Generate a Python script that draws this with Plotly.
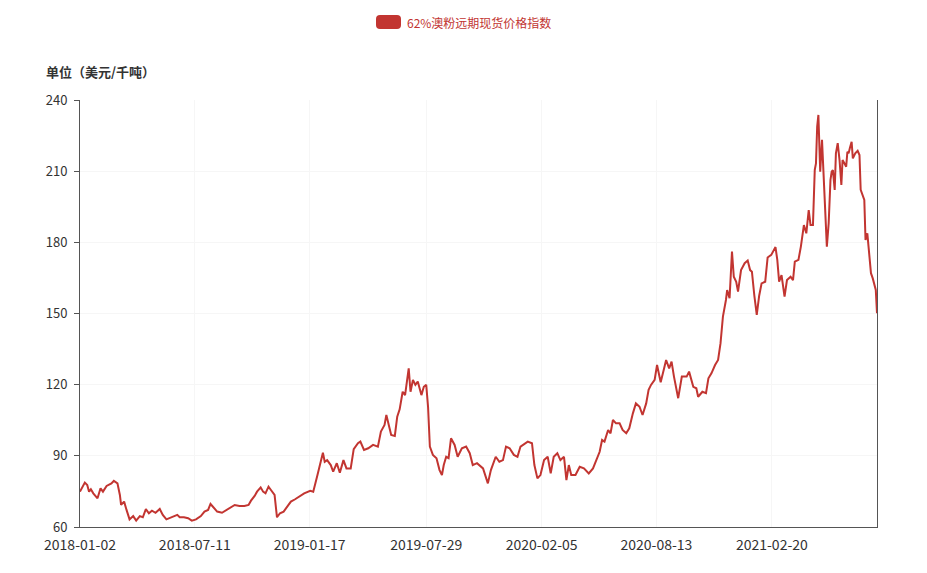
import plotly.graph_objects as go

# ---------------- data ----------------
series_name = "62%澳粉远期现货价格指数"
y_axis_name = "单位（美元/千吨）"

dates = [
    "2018-01-02", "2018-01-10", "2018-01-14", "2018-01-17", "2018-01-20", "2018-01-24", "2018-01-31",
    "2018-02-05", "2018-02-09", "2018-02-15", "2018-02-23", "2018-02-27", "2018-03-05", "2018-03-09",
    "2018-03-11", "2018-03-16", "2018-03-20", "2018-03-25", "2018-03-31", "2018-04-05", "2018-04-11",
    "2018-04-16", "2018-04-21", "2018-04-26", "2018-05-01", "2018-05-07", "2018-05-14", "2018-05-19",
    "2018-05-25", "2018-06-02", "2018-06-12", "2018-06-16", "2018-06-23", "2018-06-30", "2018-07-06",
    "2018-07-13", "2018-07-21", "2018-07-27", "2018-08-02", "2018-08-06", "2018-08-12", "2018-08-17",
    "2018-08-25", "2018-09-01", "2018-09-07", "2018-09-15", "2018-09-23", "2018-10-01", "2018-10-08",
    "2018-10-12", "2018-10-18", "2018-10-22", "2018-10-28", "2018-11-01", "2018-11-05", "2018-11-10",
    "2018-11-14", "2018-11-20", "2018-11-24", "2018-11-29", "2018-12-05", "2018-12-13", "2018-12-17",
    "2018-12-24", "2019-01-01", "2019-01-08", "2019-01-18", "2019-01-23", "2019-01-30", "2019-02-03",
    "2019-02-08", "2019-02-11", "2019-02-15", "2019-02-21", "2019-02-25", "2019-03-03", "2019-03-08",
    "2019-03-14", "2019-03-19", "2019-03-26", "2019-03-31", "2019-04-07", "2019-04-11", "2019-04-17",
    "2019-04-24", "2019-05-02", "2019-05-10", "2019-05-15", "2019-05-21", "2019-05-24", "2019-05-28",
    "2019-06-01", "2019-06-07", "2019-06-11", "2019-06-15", "2019-06-20", "2019-06-24", "2019-06-27",
    "2019-06-30", "2019-07-03", "2019-07-07", "2019-07-11", "2019-07-15", "2019-07-21", "2019-07-25",
    "2019-07-29", "2019-08-01", "2019-08-04", "2019-08-09", "2019-08-15", "2019-08-20", "2019-08-24",
    "2019-08-27", "2019-08-31", "2019-09-04", "2019-09-08", "2019-09-14", "2019-09-19", "2019-09-26",
    "2019-10-03", "2019-10-09", "2019-10-14", "2019-10-21", "2019-10-31", "2019-11-08", "2019-11-13",
    "2019-11-21", "2019-11-27", "2019-12-03", "2019-12-08", "2019-12-14", "2019-12-21", "2019-12-27",
    "2020-01-01", "2020-01-08", "2020-01-13", "2020-01-20", "2020-01-24", "2020-01-29", "2020-02-03",
    "2020-02-09", "2020-02-15", "2020-02-20", "2020-02-25", "2020-03-02", "2020-03-07", "2020-03-13",
    "2020-03-17", "2020-03-21", "2020-03-25", "2020-04-01", "2020-04-08", "2020-04-15", "2020-04-23",
    "2020-04-30", "2020-05-05", "2020-05-11", "2020-05-15", "2020-05-19", "2020-05-25", "2020-05-29",
    "2020-06-02", "2020-06-07", "2020-06-13", "2020-06-18", "2020-06-24", "2020-06-29", "2020-07-05",
    "2020-07-10", "2020-07-16", "2020-07-21", "2020-07-27", "2020-07-31", "2020-08-04", "2020-08-10",
    "2020-08-14", "2020-08-20", "2020-08-25", "2020-08-29", "2020-09-03", "2020-09-07", "2020-09-11",
    "2020-09-18", "2020-09-24", "2020-10-02", "2020-10-06", "2020-10-13", "2020-10-18", "2020-10-21",
    "2020-10-28", "2020-11-03", "2020-11-07", "2020-11-12", "2020-11-18", "2020-11-23", "2020-11-27",
    "2020-12-01", "2020-12-06", "2020-12-08", "2020-12-12", "2020-12-16", "2020-12-19", "2020-12-23",
    "2020-12-26", "2020-12-31", "2021-01-06", "2021-01-11", "2021-01-15", "2021-01-18", "2021-01-22",
    "2021-01-26", "2021-01-30", "2021-02-03", "2021-02-09", "2021-02-13", "2021-02-19", "2021-02-26",
    "2021-03-01", "2021-03-04", "2021-03-08", "2021-03-13", "2021-03-17", "2021-03-23", "2021-03-27",
    "2021-03-30", "2021-04-05", "2021-04-09", "2021-04-14", "2021-04-18", "2021-04-22", "2021-04-25",
    "2021-04-29", "2021-05-02", "2021-05-04", "2021-05-06", "2021-05-08", "2021-05-10", "2021-05-11",
    "2021-05-14", "2021-05-16", "2021-05-18", "2021-05-20", "2021-05-22", "2021-05-25", "2021-05-28",
    "2021-05-30", "2021-06-01", "2021-06-04", "2021-06-06", "2021-06-09", "2021-06-12", "2021-06-15",
    "2021-06-17", "2021-06-20", "2021-06-23", "2021-06-25", "2021-06-27", "2021-06-29", "2021-07-02",
    "2021-07-04", "2021-07-08", "2021-07-12", "2021-07-15", "2021-07-17", "2021-07-20", "2021-07-23",
    "2021-07-25", "2021-07-28", "2021-07-30", "2021-08-01", "2021-08-03", "2021-08-06", "2021-08-09",
    "2021-08-11", "2021-08-13",
]

values = [
    74.9, 78.7, 77.7, 74.9, 75.9, 74.2, 72.1,
    76.3, 74.9, 77.3, 78.4, 79.5, 78.4, 73.5,
    69.3, 70.7, 67.2, 63.2, 64.6, 62.7, 64.6,
    64.1, 67.5, 65.8, 66.9, 66.0, 67.6, 65.1,
    63.2, 64.1, 65.1, 64.1, 64.1, 63.7, 62.7,
    63.2, 64.6, 66.5, 67.2, 69.7, 67.9, 66.5,
    66.0, 67.2, 68.3, 69.3, 68.9, 68.9, 69.3,
    71.1, 73.1, 74.9, 76.7, 74.9, 74.2, 77.0,
    75.6, 73.5, 64.1, 65.8, 66.5, 69.3, 70.7,
    71.7, 73.1, 74.2, 75.3, 74.9, 81.9, 85.7,
    91.3, 87.5, 88.2, 86.1, 83.3, 86.9, 82.9,
    88.2, 84.7, 84.7, 92.8, 95.3, 96.0, 92.5,
    93.2, 94.6, 93.9, 100.2, 103.0, 107.2, 103.0,
    98.8, 98.4, 106.5, 109.6, 117.0, 115.6, 121.3,
    126.9, 117.0, 122.0, 119.9, 121.3, 115.6, 119.1,
    119.9, 110.7, 93.9, 90.4, 89.0, 84.0, 81.9,
    86.1, 89.6, 89.0, 97.4, 94.6, 89.6, 93.2,
    93.9, 91.1, 86.1, 86.9, 84.7, 78.4, 84.0,
    89.6, 87.5, 88.2, 93.9, 93.2, 90.4, 89.6,
    93.9, 95.3, 96.0, 95.3, 86.1, 80.5, 81.9,
    88.2, 89.6, 82.6, 89.6, 91.1, 88.2, 89.6,
    79.8, 86.1, 81.9, 81.9, 85.4, 84.7, 82.6,
    84.7, 88.2, 91.7, 96.7, 96.0, 100.9, 99.5,
    105.1, 103.7, 103.7, 100.9, 99.5, 101.6, 107.9,
    112.1, 110.7, 107.2, 112.1, 117.8, 119.9, 122.0,
    128.3, 121.0, 126.2, 130.4, 126.9, 129.7, 123.4,
    114.3, 123.4, 123.4, 125.5, 119.1, 118.5, 114.9,
    117.0, 116.4, 122.7, 124.8, 128.3, 130.4, 137.4,
    148.7, 155.7, 159.9, 156.4, 176.1, 165.5, 163.4,
    159.2, 168.3, 171.2, 172.3, 168.3, 167.6, 157.5,
    149.4, 157.5, 162.7, 163.4, 173.6, 174.7, 178.0,
    172.6, 163.4, 166.2, 157.1, 164.1, 165.5, 164.1,
    171.9, 172.6, 178.2, 187.3, 183.8, 193.6, 187.3,
    187.3, 210.5, 213.3, 228.8, 233.7, 220.3, 209.8,
    223.2, 211.9, 197.9, 186.6, 178.2, 188.0, 206.3,
    209.8, 210.5, 202.1, 217.5, 221.8, 214.7, 204.2,
    214.7, 213.3, 211.9, 218.2, 217.5, 219.7, 222.4,
    215.4, 217.5, 218.6, 216.8, 202.1, 200.0, 197.9,
    181.0, 183.8, 178.2, 171.2, 167.0, 164.8, 161.3,
    159.9, 150.1,
]

x_tick_labels = ["2018-01-02", "2018-07-11", "2019-01-17", "2019-07-29",
                 "2020-02-05", "2020-08-13", "2021-02-20"]
y_ticks = [60, 90, 120, 150, 180, 210, 240]

# ---------------- style / layout ----------------
RED = "#c23531"
AXIS = "#555555"
GRID = "#f6f6f6"
TXT = "#333333"
FONT = "Noto Sans CJK SC, Open Sans, sans-serif"

W, H = 927, 573
ML, MR, MT, MB = 80, 50, 100, 46
PW, PH = W - ML - MR, H - MT - MB


def px(x):
    return (x - ML) / PW


def py(y):
    return (H - MB - y) / PH


fig = go.Figure()
fig.add_trace(go.Scatter(
    x=dates, y=values, mode="lines", name=series_name,
    line=dict(color=RED, width=2), showlegend=False,
))

fig.update_layout(
    width=W, height=H,
    margin=dict(l=ML, r=MR, t=MT, b=MB, pad=0),
    paper_bgcolor="white", plot_bgcolor="white",
    font=dict(family=FONT, size=14, color=TXT),
    showlegend=False,
)

fig.update_xaxes(
    type="date", range=[dates[0], dates[-1]],
    tickmode="array", tickvals=x_tick_labels, ticktext=x_tick_labels,
    showgrid=True, gridcolor=GRID, gridwidth=1,
    showline=True, linecolor=AXIS, linewidth=1,
    ticks="", zeroline=False, ticklabelstandoff=5,
    tickfont=dict(size=14, color=TXT),
)
fig.update_yaxes(
    range=[60, 240], tickmode="array", tickvals=y_ticks,
    showgrid=True, gridcolor=GRID, gridwidth=1,
    showline=True, linecolor=AXIS, linewidth=1, mirror=True,
    ticks="outside", ticklen=5, tickcolor=AXIS,
    zeroline=False, ticklabelstandoff=4,
    tickfont=dict(size=13, color=TXT),
)

# y-axis name (top-left, bold)
fig.add_annotation(
    x=px(44), y=py(72), xref="paper", yref="paper",
    xanchor="left", yanchor="middle", showarrow=False,
    text="<b>" + y_axis_name + "</b>",
    font=dict(family=FONT, size=13, color=TXT),
)

# legend: rounded rectangle + text
x0, x1, y0, y1, r = 376, 401, 15, 29, 4
rx, ry = r / PW, r / PH
X0, X1, Y0, Y1 = px(x0), px(x1), py(y1), py(y0)
path = (f"M {X0+rx},{Y0} L {X1-rx},{Y0} Q {X1},{Y0} {X1},{Y0+ry} "
        f"L {X1},{Y1-ry} Q {X1},{Y1} {X1-rx},{Y1} L {X0+rx},{Y1} "
        f"Q {X0},{Y1} {X0},{Y1-ry} L {X0},{Y0+ry} Q {X0},{Y0} {X0+rx},{Y0} Z")
fig.add_shape(type="path", path=path, xref="paper", yref="paper",
              fillcolor=RED, line=dict(width=0))
fig.add_annotation(
    x=px(405), y=py(22), xref="paper", yref="paper",
    xanchor="left", yanchor="middle", showarrow=False,
    text=series_name, font=dict(family=FONT, size=12, color=RED),
)

fig.write_html("out.html", config={"displayModeBar": False})
